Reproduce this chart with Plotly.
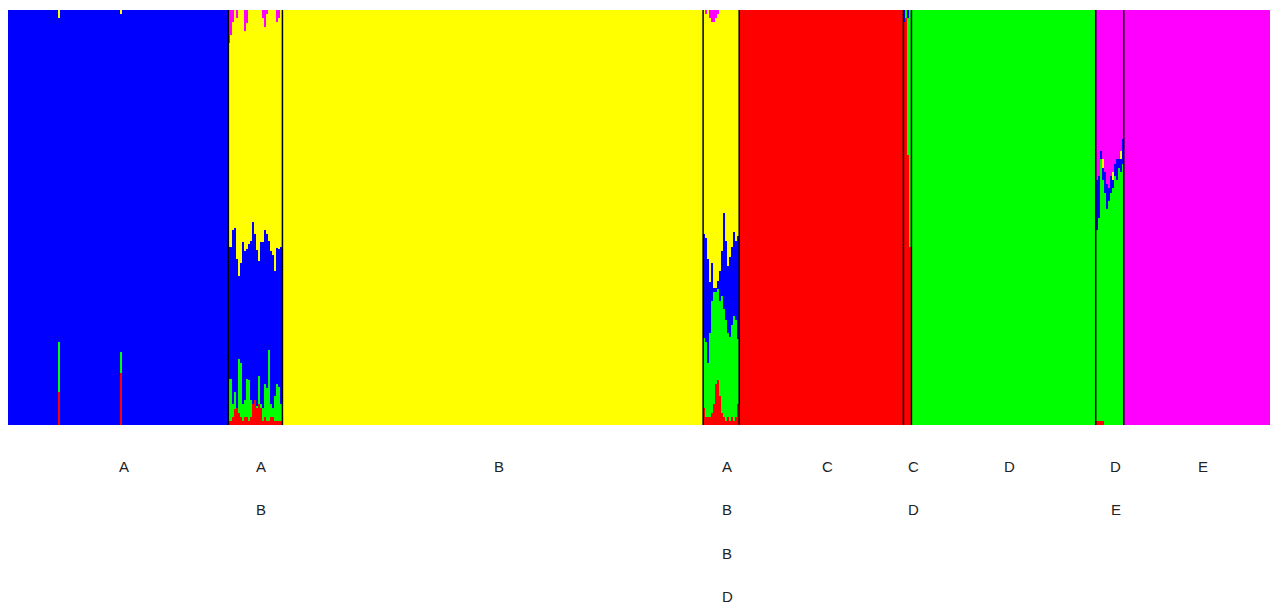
import numpy as np
import plotly.graph_objects as go

# ---- groups (populations) ----
group_names = ["A", "AB", "B", "ABBD", "C", "CD", "D", "DE", "E"]
group_labels = [["A"], ["A", "B"], ["B"], ["A", "B", "B", "D"], ["C"], ["C", "D"],
                ["D"], ["D", "E"], ["E"]]
group_n_ind = [110, 27, 210, 18, 82, 4, 92, 14, 73]

# ---- columns: number of individuals sharing the same membership profile ----
col_n = ([25, 1, 30, 1, 53] +            # A
         [1] * 27 +                       # AB
         [210] +                          # B
         [1] * 18 +                       # ABBD
         [82] +                           # C
         [1, 1, 1, 1] +                   # CD
         [92] +                           # D
         [1] * 14 +                       # DE
         [73])                            # E

# ---- membership fractions per cluster (stack order bottom -> top) ----
q_red = ([0, .08, 0, .125, 0] +
         [.01, .01, .02, .04, .04, .03, .02, .01, .02, .02, .01, .02, .05, .06, .04, .05, .04,
          .01, .02, .01, .01, .02, .02, .01, .01, .01, .01] +
         [0] +
         [.04, .02, .02, .02, .03, .05, .10, .11, .07, .03, .02, .01, .02, .01, .02, .01,
          .02, .05] +
         [1] +
         [.97, .98, .65, .43] +
         [0] +
         [.01, .01, .01, .01, 0, 0, 0, 0, 0, 0, 0, 0, 0, 0] +
         [0])
q_green = ([0, .12, 0, .05, 0] +
           [.10, .10, .03, .04, 0, .13, .13, .04, .04, .09, .10, .04, 0, 0, .005, .07, .01,
            .03, .08, .08, .17, .03, .02, .06, .09, .08, .04] +
           [0] +
           [.17, .18, .13, .20, .27, .27, .22, .22, .23, .28, .26, .24, .20, .20, .22, .25,
            .23, .16] +
           [0] +
           [0, .02, .33, .57] +
           [1] +
           [.46, .49, .63, .58, .56, .52, .54, .56, .57, .60, .59, .62, .61, .63] +
           [0])
q_blue = ([1, .78, 1, .815, 1] +
          [.32, .32, .42, .40, .36, .20, .24, .39, .36, .31, .33, .38, .44, .40, .38, .28, .39,
           .40, .37, .37, .26, .37, .37, .30, .33, .33, .38] +
          [0] +
          [.25, .25, .25, .12, .09, .01, .01, .02, .07, .11, .23, .19, .16, .19, .19, .20,
           .19, .25] +
          [0] +
          [.03, 0, .02, 0] +
          [0] +
          [.12, .10, .02, .03, .05, .06, .03, .04, .02, .03, .05, .02, .03, .06] +
          [0])
q_yellow = ([0, .02, 0, .01, 0] +
            [.49, .51, .50, .53, .58, .64, .61, .56, .53, .54, .57, .55, .51, .54, .58, .61, .56,
             .54, .49, .53, .55, .58, .59, .63, .55, .55, .57] +
            [1] +
            [.54, .54, .60, .63, .58, .64, .65, .65, .63, .58, .49, .55, .61, .59, .57, .53,
             .55, .55] +
            [0] +
            [0, 0, 0, 0] +
            [0] +
            [0, 0, 0, .02, 0, 0, 0, 0, .02, 0, 0, 0, .02, 0] +
            [0])
q_magenta = ([0, 0, 0, 0, 0] +
             [.08, .06, .03, 0, .02, 0, 0, 0, .05, .03, 0, 0, 0, 0, 0, 0, 0, .02, .04, .01,
              0, 0, 0, 0, .03, .02, 0] +
             [0] +
             [0, .01, 0, .02, .03, .03, .02, .01, 0, 0, 0, 0, 0, 0, 0, 0, 0, 0] +
             [0] +
             [0, 0, 0, 0] +
             [0] +
             [.41, .40, .34, .36, .39, .42, .43, .40, .39, .37, .36, .36, .34, .31] +
             [1])

cluster_names = ["Cluster C", "Cluster D", "Cluster A", "Cluster B", "Cluster E"]
cluster_colors = ["#FF0000", "#00FF00", "#0000FF", "#FFFF00", "#FF00FF"]

# ---- build ----
Q = np.array([q_red, q_green, q_blue, q_yellow, q_magenta], dtype=float)
Q = Q / Q.sum(axis=0, keepdims=True)
n = np.array(col_n, dtype=float)
left = np.concatenate([[0], np.cumsum(n)[:-1]])
centers = left + n / 2

fig = go.Figure()
for k in range(5):
    fig.add_trace(go.Bar(
        x=centers, y=Q[k], width=n, name=cluster_names[k],
        marker=dict(color=cluster_colors[k], line=dict(width=0)),
        hoverinfo="skip", showlegend=False))

gb = np.concatenate([[0], np.cumsum(group_n_ind)])
total = gb[-1]
shapes = []
for b in gb[1:-1]:
    shapes.append(dict(type="line", xref="x", yref="paper", x0=b, x1=b, y0=0, y1=1,
                       line=dict(color="#000000", width=1.5)))

annotations = []
for g, labs in enumerate(group_labels):
    cx = (gb[g] + gb[g + 1]) / 2
    for r, lab in enumerate(labs):
        annotations.append(dict(
            x=cx, y=0, xref="x", yref="paper", text=lab, showarrow=False,
            xanchor="center", yanchor="middle", xshift=6, yshift=-41 - 43.5 * r,
            font=dict(family="Liberation Sans, Arial, sans-serif", size=15, color="#222222")))

fig.update_layout(
    width=1278, height=605,
    margin=dict(l=0, r=16, t=2, b=188),
    paper_bgcolor="white", plot_bgcolor="white",
    barmode="stack", bargap=0,
    xaxis=dict(range=[0, total], visible=False, fixedrange=True),
    yaxis=dict(range=[0, 1], visible=False, fixedrange=True),
    shapes=shapes, annotations=annotations,
)

fig.write_html("out.html")
